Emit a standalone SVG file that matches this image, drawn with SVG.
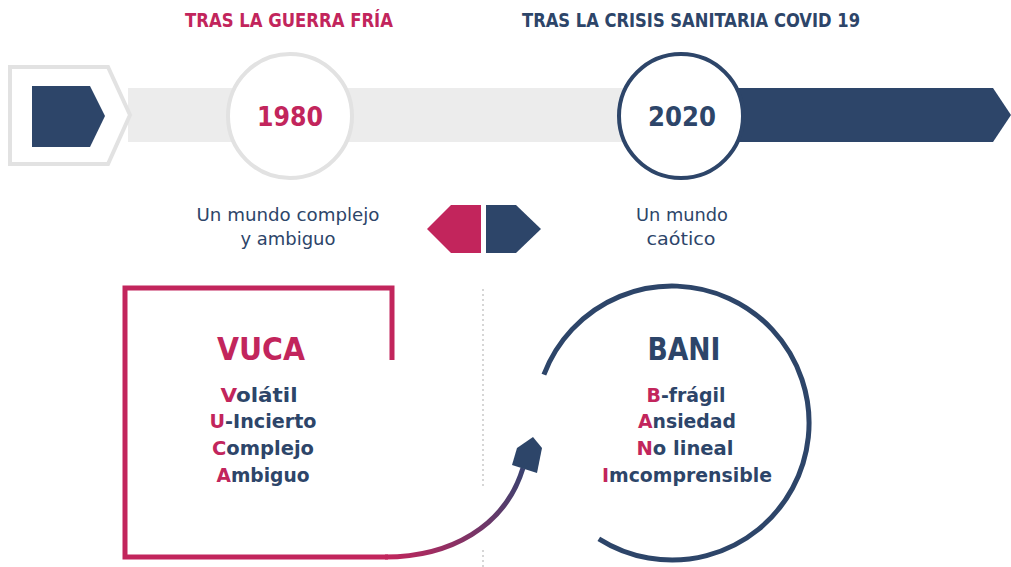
<svg xmlns="http://www.w3.org/2000/svg" width="1011" height="567" viewBox="0 0 1011 567">
<defs>
<style>
.t{font-family:"DejaVu Sans","Liberation Sans",sans-serif;}
.b{font-weight:bold;}
.cr{fill:#c2255c;}
.nv{fill:#2d4569;}
.mid{text-anchor:middle;}
</style>
<linearGradient id="g" gradientUnits="userSpaceOnUse" x1="385" y1="557" x2="524" y2="470">
<stop offset="0" stop-color="#c2255c"/>
<stop offset="1" stop-color="#3a4270"/>
</linearGradient>
</defs>
<rect width="1011" height="567" fill="#ffffff"/>
<g id="header">
<text class="t b cr" x="185" y="27" font-size="19" textLength="208" lengthAdjust="spacingAndGlyphs">TRAS LA GUERRA FRÍA</text>
<text class="t b nv" x="522" y="27" font-size="19" textLength="338" lengthAdjust="spacingAndGlyphs">TRAS LA CRISIS SANITARIA COVID 19</text>
</g>
<g id="timeline">
<rect x="128" y="88" width="500" height="54" fill="#ececec"/>
<path d="M700,88 H993 L1011,115 L993,142 H700 Z" fill="#2d4569"/>
<path d="M10,67 H108 L130,115 L108,164 H10 Z" fill="#ffffff" stroke="#e2e2e2" stroke-width="4"/>
<path d="M32,86 H90 L105,116 L90,147 H32 Z" fill="#2d4569"/>
</g>
<g id="node-1980">
<circle cx="290" cy="116" r="62" fill="#ffffff" stroke="#e2e2e2" stroke-width="4"/>
<text class="t b cr mid" x="290" y="126" font-size="27" textLength="66" lengthAdjust="spacingAndGlyphs">1980</text>
</g>
<g id="node-2020">
<circle cx="681" cy="116" r="62" fill="#ffffff" stroke="#2d4569" stroke-width="4"/>
<text class="t b nv mid" x="682" y="126" font-size="27" textLength="68" lengthAdjust="spacingAndGlyphs">2020</text>
</g>
<g id="label-1980">
<text class="t nv mid" x="288" y="221" font-size="18" textLength="183" lengthAdjust="spacingAndGlyphs">Un mundo complejo</text>
<text class="t nv mid" x="288" y="245" font-size="18" textLength="95" lengthAdjust="spacingAndGlyphs">y ambiguo</text>
</g>
<g id="label-2020">
<text class="t nv mid" x="682" y="221" font-size="18" textLength="92" lengthAdjust="spacingAndGlyphs">Un mundo</text>
<text class="t nv mid" x="681" y="245" font-size="18" textLength="69" lengthAdjust="spacingAndGlyphs">caótico</text>
</g>
<g id="double-arrow">
<path d="M481,205 V253 H451 L427,229 L451,205 Z" fill="#c2255c"/>
<path d="M486,205 V253 H516 L541,229 L516,205 Z" fill="#2d4569"/>
</g>
<g id="divider">
<line x1="483" y1="289" x2="483" y2="488" stroke="#d6d6d6" stroke-width="2" stroke-dasharray="2 3"/>
<line x1="483" y1="550" x2="483" y2="567" stroke="#d6d6d6" stroke-width="2" stroke-dasharray="2 3"/>
</g>
<g id="vuca">
<path d="M392,360 V288 H125 V557 H388" fill="none" stroke="#c2255c" stroke-width="5"/>
<text class="t b cr mid" x="261" y="360" font-size="32" textLength="88" lengthAdjust="spacingAndGlyphs">VUCA</text>
<text class="t b nv mid" x="259" y="402" font-size="20" textLength="77" lengthAdjust="spacingAndGlyphs"><tspan class="cr">V</tspan>olátil</text>
<text class="t b nv mid" x="263" y="428" font-size="20" textLength="107" lengthAdjust="spacingAndGlyphs"><tspan class="cr">U</tspan>-Incierto</text>
<text class="t b nv mid" x="263" y="455" font-size="20" textLength="102" lengthAdjust="spacingAndGlyphs"><tspan class="cr">C</tspan>omplejo</text>
<text class="t b nv mid" x="263" y="482" font-size="20" textLength="93" lengthAdjust="spacingAndGlyphs"><tspan class="cr">A</tspan>mbiguo</text>
</g>
<g id="bani">
<path d="M543.9,374.6 A137,137 0 1 1 598.8,538.8" fill="none" stroke="#2d4569" stroke-width="5"/>
<text class="t b nv mid" x="684" y="360" font-size="32" textLength="73" lengthAdjust="spacingAndGlyphs">BANI</text>
<text class="t b nv mid" x="686" y="402" font-size="20" textLength="79" lengthAdjust="spacingAndGlyphs"><tspan class="cr">B</tspan>-frágil</text>
<text class="t b nv mid" x="687" y="428" font-size="20" textLength="98" lengthAdjust="spacingAndGlyphs"><tspan class="cr">A</tspan>nsiedad</text>
<text class="t b nv mid" x="685" y="455" font-size="20" textLength="97" lengthAdjust="spacingAndGlyphs"><tspan class="cr">N</tspan>o lineal</text>
<text class="t b nv mid" x="687" y="482" font-size="20" textLength="170" lengthAdjust="spacingAndGlyphs"><tspan class="cr">I</tspan>mcomprensible</text>
</g>
<g id="connectors">
<path d="M385,557 C450,557 505,527 523,468" fill="none" stroke="url(#g)" stroke-width="5"/>
<path d="M533,437 L542,448 L537,473 L512,465 L517,448 Z" fill="#2d4569"/>
</g>
</svg>
